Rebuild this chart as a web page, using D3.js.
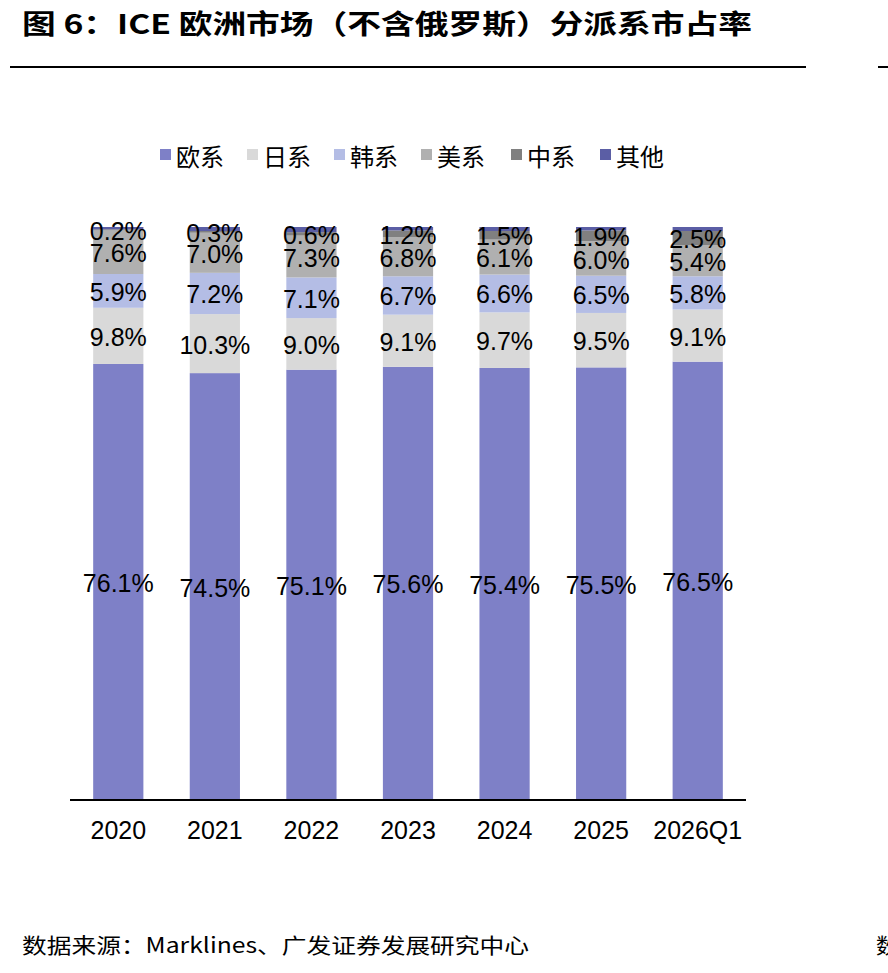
<!DOCTYPE html>
<html><head><meta charset="utf-8">
<script src="https://cdn.jsdelivr.net/npm/d3@7"></script>
<style>
html,body{margin:0;padding:0;background:#fff;}
svg{display:block;font-family:"Liberation Sans",Arial,"Noto Sans CJK SC",sans-serif;}
</style></head>
<body>
<svg id="chart" width="888" height="973"></svg>
<script>
const categories = ["2020","2021","2022","2023","2024","2025","2026Q1"];
const seriesNames = ["欧系","日系","韩系","美系","中系","其他"];
const euro   = [76.1,74.5,75.1,75.6,75.4,75.5,76.5];
const japan  = [9.8,10.3,9.0,9.1,9.7,9.5,9.1];
const korea  = [5.9,7.2,7.1,6.7,6.6,6.5,5.8];
const usa    = [7.6,7.0,7.3,6.8,6.1,6.0,5.4];
const china  = [0.2,0.3,0.6,1.2,1.5,1.9,2.5];
const other  = [0.4,0.7,0.9,0.6,0.7,0.6,0.7];
const showLabel = [true,true,true,true,true,false];
const colors = ["#7E80C7","#D9D9D9","#B4BDE5","#B0B0B0","#808080","#5B5EA5"];

const svgEl = d3.select("#chart");
const cjk = '"Noto Sans CJK SC","Liberation Sans",sans-serif';

// Title
svgEl.append("text").attr("x",22).attr("y",34)
  .attr("font-family",cjk).attr("font-weight","bold").attr("font-size",27)
  .attr("textLength",730).attr("lengthAdjust","spacingAndGlyphs")
  .attr("fill","#000").text("图 6：ICE 欧洲市场（不含俄罗斯）分派系市占率");
svgEl.append("line").attr("x1",10).attr("x2",806).attr("y1",67).attr("y2",67)
  .attr("stroke","#000").attr("stroke-width",2);
svgEl.append("line").attr("x1",878).attr("x2",888).attr("y1",67).attr("y2",67)
  .attr("stroke","#000").attr("stroke-width",2);

// Data table
const rows = categories.map((c,i)=>({cat:c,"欧系":euro[i],"日系":japan[i],"韩系":korea[i],"美系":usa[i],"中系":china[i],"其他":other[i]}));
const stack = d3.stack().keys(seriesNames)(rows);

const x = d3.scaleBand().domain(categories).range([70,746]).paddingInner(0.48).paddingOuter(0.24);
const y = d3.scaleLinear().domain([0,100]).range([800,227]);

const g = svgEl.append("g");
stack.forEach((layer,si)=>{
  g.append("g").attr("fill",colors[si]).selectAll("rect").data(layer).enter().append("rect")
    .attr("x",d=>x(d.data.cat)).attr("width",x.bandwidth())
    .attr("y",d=>y(d[1])).attr("height",d=>y(d[0])-y(d[1]));
});
// labels
stack.forEach((layer,si)=>{
  if(!showLabel[si]) return;
  g.append("g").selectAll("text").data(layer).enter().append("text")
    .attr("x",d=>x(d.data.cat)+x.bandwidth()/2)
    .attr("y",d=>(y(d[0])+y(d[1]))/2 + 1)
    .attr("text-anchor","middle").attr("dominant-baseline","central")
    .attr("font-size",25).attr("fill","#000")
    .text(d=>(d[1]-d[0]).toFixed(1)+"%");
});

// x axis
const xAxis = d3.axisBottom(x).tickSize(0).tickPadding(21);
const ax = svgEl.append("g").attr("transform","translate(0,800)").call(xAxis);
ax.select(".domain").attr("stroke","#000").attr("stroke-width",2).attr("d","M70,0H746");
ax.selectAll("text").attr("font-size",25).attr("fill","#000")
  .attr("font-family",'"Liberation Sans",Arial,sans-serif');

// legend
const legX = [160,247,334,421,511,600];
const leg = svgEl.append("g");
seriesNames.forEach((n,i)=>{
  leg.append("rect").attr("x",legX[i]).attr("y",149).attr("width",11).attr("height",11).attr("fill",colors[i]);
  leg.append("text").attr("x",legX[i]+16).attr("y",155).attr("dominant-baseline","central")
    .attr("font-family",cjk).attr("font-size",24).attr("fill","#000").text(n);
});

// source
svgEl.append("text").attr("x",22).attr("y",953)
  .attr("font-family",cjk).attr("font-size",21).attr("fill","#000")
  .attr("textLength",507).attr("lengthAdjust","spacingAndGlyphs")
  .text("数据来源：Marklines、广发证券发展研究中心");
svgEl.append("text").attr("x",876).attr("y",953)
  .attr("font-family",cjk).attr("font-size",21).attr("fill","#000").text("数");
</script>
</body></html>
